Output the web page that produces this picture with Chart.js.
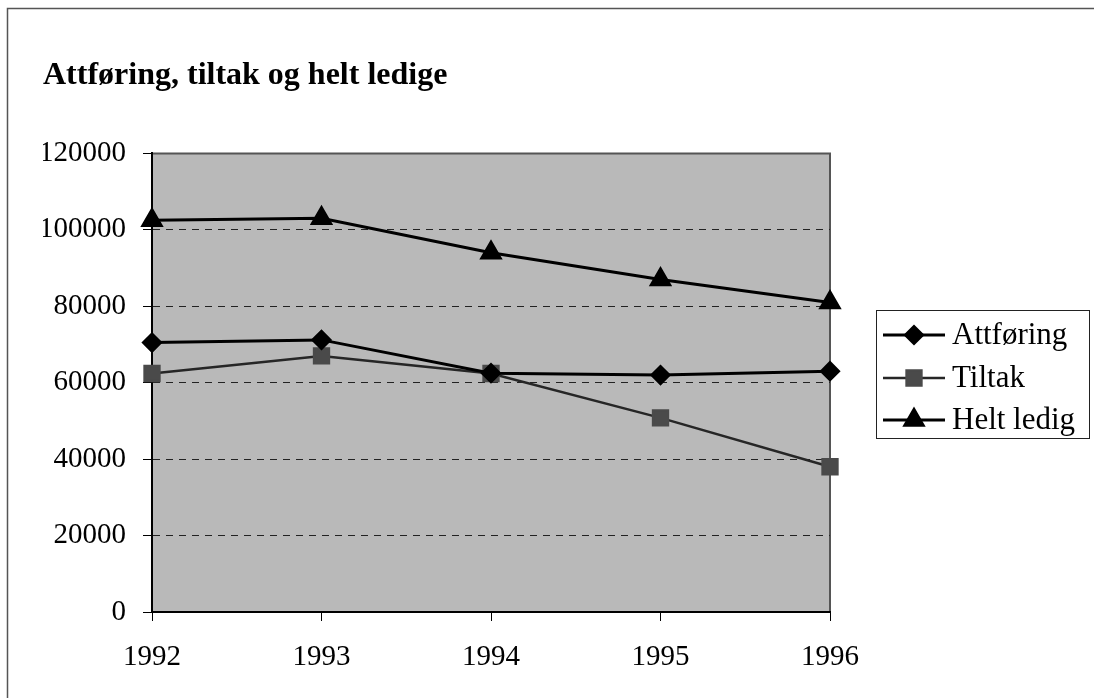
<html>
<head>
    <meta charset="UTF-8">
    <script src="https://cdn.jsdelivr.net/npm/chart.js"></script>
    <title>Attføring, tiltak og helt ledige</title>
    <style>
        body { margin: 0; background: #fff; }
    </style>
</head>
<body>
    <canvas id="ledige" width="1094" height="698"></canvas>
    <script>
        // verdier lest av figuren
        const years = ['1992', '1993', '1994', '1995', '1996'];
        const attforing = [70500, 71200, 62500, 62000, 63000];
        const tiltak = [62400, 67000, 62400, 50800, 38000];
        const heltLedig = [102500, 103000, 94000, 87000, 81000];
        const yTicks = [0, 20000, 40000, 60000, 80000, 100000, 120000];

        Chart.defaults.font.family = "'Liberation Serif', 'Times New Roman', serif";
        Chart.defaults.color = '#000';

        // grå bakgrunn i plottområdet + kantlinje øverst og til venstre
        const bakgrunn = {
            id: 'bakgrunn',
            beforeDraw(chart) {
                const { ctx, chartArea: a } = chart;
                ctx.save();
                ctx.fillStyle = '#fff';
                ctx.fillRect(0, 0, chart.width, chart.height);
                ctx.strokeStyle = '#555';
                ctx.lineWidth = 1.5;
                ctx.beginPath();
                ctx.moveTo(7.5, chart.height);
                ctx.lineTo(7.5, 8.5);
                ctx.lineTo(chart.width, 8.5);
                ctx.stroke();
                ctx.fillStyle = '#b9b9b9';
                ctx.fillRect(a.left, a.top, a.right - a.left, a.bottom - a.top);
                ctx.strokeStyle = '#555';
                ctx.lineWidth = 2;
                ctx.beginPath();
                ctx.moveTo(a.left, a.top);
                ctx.lineTo(a.right, a.top);
                ctx.lineTo(a.right, a.bottom);
                ctx.stroke();
                ctx.restore();
            }
        };

        // forklaring i boks til høyre
        const forklaring = {
            id: 'forklaring',
            afterDraw(chart) {
                const ctx = chart.ctx;
                const rows = [335, 378, 420];
                ctx.save();
                ctx.strokeStyle = '#222';
                ctx.lineWidth = 1;
                ctx.strokeRect(876.5, 310.5, 213, 128);
                chart.data.datasets.forEach((ds, i) => {
                    const y = rows[i];
                    ctx.strokeStyle = ds.borderColor;
                    ctx.lineWidth = ds.borderWidth;
                    ctx.beginPath();
                    ctx.moveTo(883, y);
                    ctx.lineTo(945, y);
                    ctx.stroke();
                    ctx.fillStyle = ds.pointBackgroundColor;
                    ctx.strokeStyle = ds.pointBorderColor;
                    Chart.helpers.drawPoint(ctx, {
                        pointStyle: ds.pointStyle,
                        radius: ds.pointRadius,
                        rotation: 0,
                        borderWidth: 1
                    }, 914, y);
                    ctx.fillStyle = '#000';
                    ctx.font = "31px 'Liberation Serif'";
                    ctx.textBaseline = 'middle';
                    ctx.textAlign = 'left';
                    ctx.fillText(ds.label, 952, y + 1);
                });
                ctx.restore();
            }
        };

        const data = {
            labels: years,
            datasets: [{
                label: 'Attføring',
                data: attforing,
                borderColor: '#000',
                borderWidth: 3,
                pointStyle: 'rectRot',
                pointRadius: 8.5,
                pointBackgroundColor: '#000',
                pointBorderColor: '#000',
                tension: 0
            }, {
                label: 'Tiltak',
                data: tiltak,
                borderColor: '#262626',
                borderWidth: 2.5,
                pointStyle: 'rect',
                pointRadius: 10.5,
                pointBackgroundColor: '#4a4a4a',
                pointBorderColor: '#4a4a4a',
                tension: 0
            }, {
                label: 'Helt ledig',
                data: heltLedig,
                borderColor: '#000',
                borderWidth: 3,
                pointStyle: 'triangle',
                pointRadius: 10.5,
                pointBackgroundColor: '#000',
                pointBorderColor: '#000',
                tension: 0
            }]
        };

        const config = {
            type: 'line',
            data: data,
            options: {
                responsive: false,
                animation: false,
                layout: { padding: { left: 43, right: 264, top: 0, bottom: 0 } },
                plugins: {
                    legend: { display: false },
                    tooltip: { enabled: false },
                    title: {
                        display: true,
                        text: 'Attføring, tiltak og helt ledige',
                        align: 'start',
                        color: '#000',
                        font: { size: 32, weight: 'bold' },
                        padding: { top: 57, bottom: 58 }
                    }
                },
                scales: {
                    x: {
                        offset: false,
                        afterFit: (s) => { s.height = 86; },
                        grid: { drawOnChartArea: false, tickLength: 9, tickColor: '#000' },
                        border: { display: true, color: '#000', width: 2 },
                        ticks: { font: { size: 29 }, padding: 19, color: '#000', maxRotation: 0 }
                    },
                    y: {
                        min: 0,
                        max: 120000,
                        afterFit: (s) => { s.width = 109; },
                        afterBuildTicks: (s) => { s.ticks = yTicks.map(v => ({ value: v })); },
                        grid: {
                            color: (c) => (c.tick && (c.tick.value === 0 || c.tick.value === 120000)) ? 'rgba(0,0,0,0)' : '#222',
                            lineWidth: 1,
                            tickLength: 9,
                            tickColor: '#000'
                        },
                        border: { display: true, color: '#000', width: 2, dash: [7, 6] },
                        ticks: {
                            font: { size: 29 },
                            padding: 17,
                            color: '#000',
                            callback: (v) => String(v)
                        }
                    }
                }
            },
            plugins: [bakgrunn, forklaring]
        };

        const myChart = new Chart(document.getElementById('ledige'), config);
    </script>
</body>
</html>
